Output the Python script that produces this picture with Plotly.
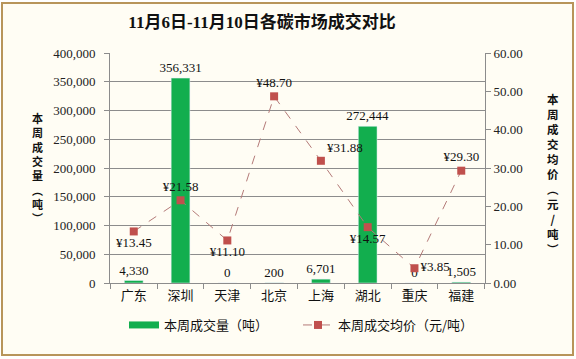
import plotly.graph_objects as go

categories = ["广东", "深圳", "天津", "北京", "上海", "湖北", "重庆", "福建"]
volumes = [4330, 356331, 0, 200, 6701, 272444, 0, 1505]
prices = [13.45, 21.58, 11.10, 48.70, 31.88, 14.57, 3.85, 29.30]
price_label_pos = ["bottom center", "top center", "bottom center", "top center",
                   "top right", "bottom center", "middle right", "top center"]

title_text = "11月6日-11月10日各碳市场成交对比"
vol_name = "本周成交量（吨）"
price_name = "本周成交均价（元/吨）"
left_title_chars = ["本", "周", "成", "交", "量", "︵", "吨", "︶"]
right_title_chars = ["本", "周", "成", "交", "均", "价", "︵", "元", "/", "吨", "︶"]

SERIF = "Liberation Serif, Times New Roman, Noto Sans CJK SC, serif"
SANS = "Noto Sans CJK SC, sans-serif"
GREEN = "#12AE4E"
RED = "#C0504D"
GRID = "#8C8C8C"

W, H = 576, 359
L, R, T, B = 110, 91, 53, 76
pw, ph = W - L - R, H - T - B


def px_x(x):
    return (x - L) / pw


def px_y(y):
    return (H - B - y) / ph


fig = go.Figure()

fig.add_trace(go.Bar(
    x=categories, y=volumes, name=vol_name, marker_color=GREEN,
    width=0.4, text=[f"{v:,}" for v in volumes], textposition="outside",
    textangle=0, constraintext="none",
    textfont=dict(family=SERIF, size=13, color="#111"), cliponaxis=False,
    showlegend=False, yaxis="y",
))
# legend entry for the bars (wide rectangle symbol)
fig.add_trace(go.Scatter(
    x=[None], y=[None], mode="lines", name=vol_name,
    line=dict(color=GREEN, width=7), yaxis="y", legend="legend",
))
fig.add_trace(go.Scatter(
    x=categories, y=prices, name=price_name, yaxis="y2",
    mode="lines+markers+text",
    line=dict(color="#B47A78", width=1, dash="dash"),
    marker=dict(symbol="square", size=8, color=RED),
    text=[f"¥{p:.2f}" for p in prices], textposition=price_label_pos,
    textfont=dict(family=SERIF, size=13, color="#111"), cliponaxis=False,
    legend="legend2",
))

annotations = [
    dict(text="<b>" + "<br>".join(left_title_chars) + "</b>",
         xref="paper", yref="paper", x=px_x(37), y=px_y(168),
         xanchor="center", yanchor="middle", showarrow=False,
         font=dict(family=SANS, size=11, color="#111")),
    dict(text="<b>" + "<br>".join(right_title_chars) + "</b>",
         xref="paper", yref="paper", x=px_x(553), y=px_y(174),
         xanchor="center", yanchor="middle", showarrow=False,
         font=dict(family=SANS, size=11.5, color="#111")),
]

legend_common = dict(orientation="h", yanchor="middle", y=px_y(325),
                     xanchor="left", bgcolor="rgba(0,0,0,0)",
                     font=dict(family=SANS, size=13, color="#111"))

fig.update_layout(
    width=W, height=H,
    margin=dict(l=L, r=R, t=T, b=B),
    paper_bgcolor="white", plot_bgcolor="rgba(0,0,0,0)",
    title=dict(text=f"<b>{title_text}</b>", x=262 / W, xanchor="center",
               y=1 - 22 / H, yanchor="middle",
               font=dict(family=SERIF, size=17, color="#111")),
    xaxis=dict(type="category", showgrid=False, showline=True, linecolor=GRID,
               ticks="outside", ticklen=5, tickcolor=GRID, tickson="boundaries",
               tickfont=dict(family=SANS, size=13, color="#111")),
    yaxis=dict(range=[0, 400000], dtick=50000, tickformat=",", showgrid=True,
               gridcolor=GRID, gridwidth=1, showline=True, linecolor=GRID,
               ticks="outside", ticklen=5, tickcolor=GRID, zeroline=False,
               ticklabelstandoff=6,
               tickfont=dict(family=SERIF, size=13, color="#222")),
    yaxis2=dict(range=[0, 60], dtick=10, tickformat=".2f", overlaying="y",
                side="right", showgrid=False, showline=True, linecolor=GRID,
                ticks="outside", ticklen=5, tickcolor=GRID, zeroline=False,
                tickfont=dict(family=SERIF, size=13, color="#222")),
    legend=dict(x=px_x(124), **legend_common),
    legend2=dict(x=px_x(298), **legend_common),
    bargap=0.6,
    shapes=[dict(type="rect", xref="paper", yref="paper",
                 x0=px_x(2), x1=px_x(573), y0=px_y(355), y1=px_y(3),
                 line=dict(color="#B8955A", width=2), fillcolor="#FFFDF4",
                 layer="below")],
    annotations=annotations,
)

fig.write_html("out.html", config={"displayModeBar": False},
               post_script="document.body.style.margin='0';document.body.style.overflow='hidden';")
